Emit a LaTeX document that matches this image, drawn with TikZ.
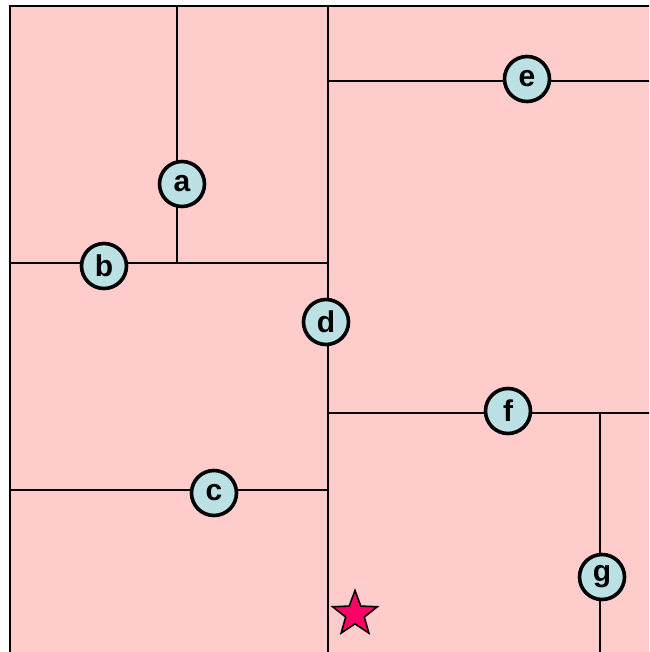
\documentclass[tikz,border=0pt]{standalone}
\usepackage{fontspec}
\setmainfont{Liberation Sans}
\usetikzlibrary{shapes.geometric}
\definecolor{pinkbg}{HTML}{FFCCCC}
\definecolor{nodeblue}{HTML}{BBE1E5}
\definecolor{starpink}{HTML}{FF0066}
\tikzset{
  split/.style={line width=1.8pt, black},
  pt/.style={circle, draw=black, line width=3.6pt, fill=nodeblue, minimum size=45pt, inner sep=0pt, font=\bfseries\fontsize{30}{30}\selectfont},
  starmark/.style={star, star points=5, star point ratio=2.4, draw=black, line width=1.6pt, fill=starpink, minimum size=47pt, inner sep=0pt}
}
\begin{document}
\begin{tikzpicture}[x=1pt,y=-1pt]
\useasboundingbox (0,0) rectangle (649,652);
\clip (0,0) rectangle (649,652);
\fill[pinkbg] (10,6) rectangle (670,670);
% split coordinates
\coordinate (dT) at (328,6);   \coordinate (dB) at (328,660);
\coordinate (aT) at (177,6);   \coordinate (aB) at (177,263);
\coordinate (bL) at (10,263);  \coordinate (bR) at (328,263);
\coordinate (cL) at (10,490);  \coordinate (cR) at (328,490);
\coordinate (eL) at (328,81);  \coordinate (eR) at (670,81);
\coordinate (fL) at (328,413); \coordinate (fR) at (670,413);
\coordinate (gT) at (600,413); \coordinate (gB) at (600,670);
\draw[split] (dT) -- (dB);
\draw[split] (aT) -- (aB);
\draw[split] (bL) -- (bR);
\draw[split] (cL) -- (cR);
\draw[split] (eL) -- (eR);
\draw[split] (fL) -- (fR);
\draw[split] (gT) -- (gB);
\draw[line width=2.4pt] (10,670) -- (10,6) -- (670,6);
% points
\node[pt] (a) at (182,184) {a};
\node[pt] (b) at (104,266) {b};
\node[pt] (c) at (214,493) {c};
\node[pt] (d) at (326,322) {d};
\node[pt] (e) at (527,79) {e};
\node[pt] (f) at (508,411) {f};
\node[pt] (g) at (602,577) {g};
\node[starmark] (q) at (355,614) {};
\end{tikzpicture}
\end{document}
